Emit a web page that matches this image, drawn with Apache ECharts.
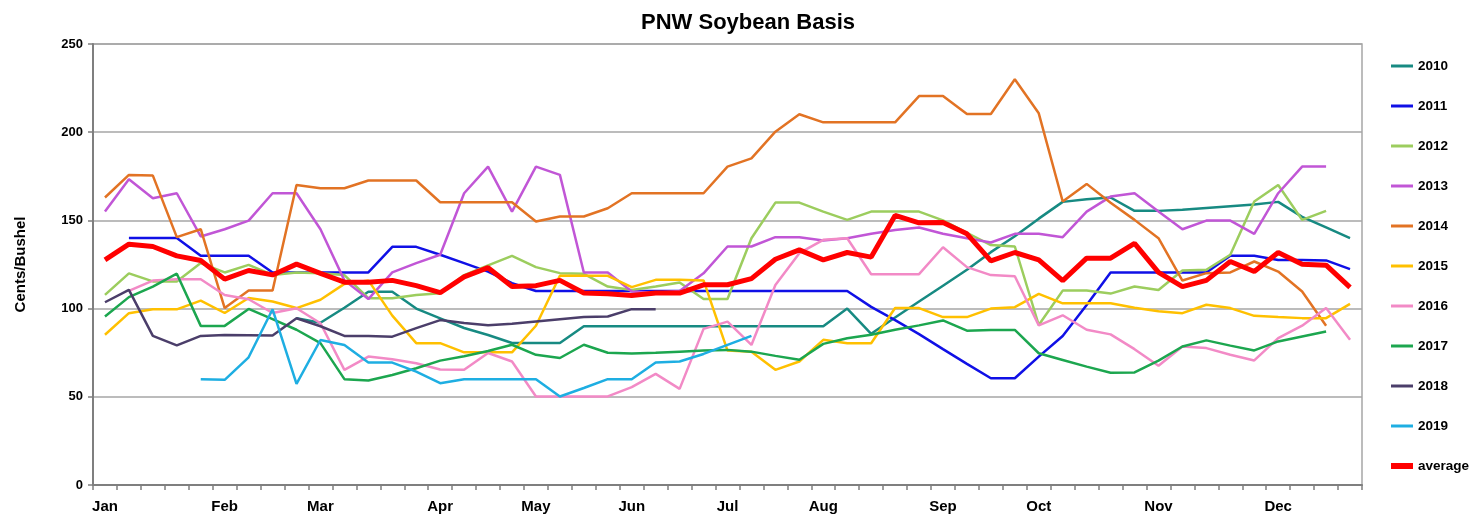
<!DOCTYPE html>
<html>
<head>
<meta charset="utf-8">
<script src="https://cdn.jsdelivr.net/npm/echarts@6/dist/echarts.min.js"></script>
<style>
html,body{margin:0;padding:0;background:#fff;}
#chart{width:1471px;height:518px;}
</style>
</head>
<body>
<div id="chart"></div>
<script>
// Weekly categories (53 weeks)
const weeks = [
 'Jan 1','Jan 2','Jan 3','Jan 4','Jan 5',
 'Feb 1','Feb 2','Feb 3','Feb 4',
 'Mar 1','Mar 2','Mar 3','Mar 4','Mar 5',
 'Apr 1','Apr 2','Apr 3','Apr 4',
 'May 1','May 2','May 3','May 4',
 'Jun 1','Jun 2','Jun 3','Jun 4',
 'Jul 1','Jul 2','Jul 3','Jul 4',
 'Aug 1','Aug 2','Aug 3','Aug 4','Aug 5',
 'Sep 1','Sep 2','Sep 3','Sep 4',
 'Oct 1','Oct 2','Oct 3','Oct 4','Oct 5',
 'Nov 1','Nov 2','Nov 3','Nov 4','Nov 5',
 'Dec 1','Dec 2','Dec 3','Dec 4'
];
const yTicks = [0, 50, 100, 150, 200, 250];

const s2010 = [null,null,null,null,null,null,null,null,
 94.5,92,100.5,109.6,109.6,100,94.5,89,85,80.5,80.5,80.5,90,90,90,90,90,90,90,90,90,90,90,100,
 85.7,95,104,113,122,132,141,151,160.5,162,163,155.4,155.4,156,157,158,159,160.5,152,146,140];
const s2011 = [null,140,140,140,130,130,130,120.5,120.5,120.5,120.5,120.5,135,135,130.5,125.8,121,114.4,
 110,110,110,110,110,110,110,110,110,110,110,110,110,110,101,93.5,85.5,77,68.7,60.5,60.5,72.8,84.5,102,
 120.5,120.5,120.5,120.5,120.5,130,130,127.6,127.6,127.3,122.4];
const s2012 = [107.8,120,115.4,115.4,125.8,120.5,124.8,119.1,120.5,120,119,105.9,105.9,107.7,108.7,119,124.5,
 129.9,123.5,120.1,119.7,112.5,110.6,112.5,114.8,105.4,105.4,139.9,160.1,160.1,155,150.3,155,155,155,150,143,
 136,135.2,90.7,110.2,110.2,108.5,112.5,110.5,121.6,122,130.5,160.7,170.1,150.3,155.4,null];
const s2013 = [155,173.3,162.6,165.4,140.9,145,149.9,165.4,165.4,145,116,105.4,120.5,125.8,130.5,165.4,180.5,
 155,180.5,175.8,120.5,120.5,109.7,109,110,120,135.2,135.2,140.5,140.5,138.6,139.9,142.4,144.6,146,142.4,
 139.9,137.5,142.4,142.4,140.5,155,163.5,165.4,155,145,149.9,149.9,142.4,165.4,180.5,180.5,null];
const s2014 = [163,175.8,175.4,140.5,145,100.3,110.3,110.3,170.1,168.2,168.2,172.6,172.6,172.6,160.3,160.3,
 160.3,160.3,149.4,152.2,152.2,156.9,165.4,165.4,165.4,165.4,180.5,185.2,200.3,210.2,205.6,205.6,205.6,
 205.6,220.5,220.5,210.3,210.3,230,210.7,160.7,170.7,160,150.3,139.9,115.9,120.1,120.5,126.7,121,109.7,90.3,null];
const s2015 = [85.2,97.4,99.6,99.6,104.5,97.5,106,104,100.3,105,114,116,96,80.4,80.4,75.2,75.2,75.2,90.3,
 118.6,118.6,118.6,112.2,116.3,116.3,116,76.2,75.6,65.3,70,82.3,80.4,80.4,100.3,100.3,95.2,95.2,100,100.8,
 108.3,103,103,103,100.5,98.5,97.4,102.2,100.3,95.9,95.2,94.6,94.6,102.7];
const s2016 = [null,110,115.9,116.6,116.6,107.7,105.3,97.5,100.2,91.7,65.3,72.8,71.3,69,65.5,65.3,74.8,70,
 50.2,50.2,50.2,50.2,55.5,63,54.5,88.5,92.6,79.4,113.4,131.4,139,139.9,119.5,119.5,119.5,134.8,123.5,119,
 118.3,90.5,96.2,88,85.4,77,67.6,78.5,77.6,73.8,70.6,83.3,90.3,100.3,82.3];
const s2017 = [95.5,106.5,112.5,119.8,90.2,90.2,99.8,94,88,80.4,60,59.2,62.4,66.2,70.5,73,76,79.5,73.8,72,
 79.5,75,74.5,75,75.6,76.2,76.6,75.6,73.2,71,80,83.2,85.2,88,90.5,93.3,87.5,87.9,87.9,74.7,70.9,67.1,63.6,
 63.8,70.5,78.5,82,79,76.3,81.4,84.2,87,null];
const s2018 = [103.6,110.6,84.5,79.2,84.5,85,84.9,84.7,94.5,90,84.5,84.5,84.1,88.9,93.5,91.8,90.5,91.4,92.7,
 94,95.2,95.5,99.7,99.7];
const s2019 = [null,null,null,null,60,59.6,72.4,99.6,57.3,82.2,79.4,69.4,69.4,64.3,57.7,60,60,60,60,50.2,55,
 60,60,69.5,70,74.3,79.4,84.5];
const sAvg = [127.6,136.5,135.2,129.9,127.3,116.7,121.6,119.1,125.2,120,115,115,116,113,109,118,123.2,112.5,
 113,116,108.8,108.4,107.4,108.8,108.8,113.5,113.5,117,128,133.3,127.6,131.8,129.2,152.8,148.6,148.8,142.4,
 127.1,131.8,127.6,115.9,128.6,128.6,137,120.5,112.5,116,126.7,121,131.8,125.2,124.6,112];

const seriesDefs = [
  ['2010', s2010, '#178a82', 2.5],
  ['2011', s2011, '#1010e6', 2.5],
  ['2012', s2012, '#9ccd5e', 2.5],
  ['2013', s2013, '#c156d6', 2.5],
  ['2014', s2014, '#e27324', 2.5],
  ['2015', s2015, '#ffc000', 2.5],
  ['2016', s2016, '#f28ac6', 2.5],
  ['2017', s2017, '#1ca64f', 2.5],
  ['2018', s2018, '#4b3e6a', 2.5],
  ['2019', s2019, '#1eaee2', 2.5],
  ['average', sAvg, '#ff0000', 5]
];

const chart = echarts.init(document.getElementById('chart'), null, {renderer: 'canvas'});
const FONT = '"Liberation Sans", Arial, sans-serif';
chart.setOption({
  animation: false,
  backgroundColor: '#ffffff',
  title: {
    text: 'PNW Soybean Basis',
    left: 743, top: 7, textAlign: 'center',
    textStyle: {fontFamily: FONT, fontWeight: 'bold', fontSize: 22, color: '#000'}
  },
  legend: {
    orient: 'vertical',
    left: 1388, top: 59, padding: 0,
    itemWidth: 22, itemHeight: 14, itemGap: 26,
    itemStyle: {opacity: 0},
    textStyle: {fontFamily: FONT, fontWeight: 'bold', fontSize: 13.5, color: '#000'},
    data: seriesDefs.map(d => ({
      name: d[0],
      lineStyle: {color: d[2], width: d[3] > 3 ? 6 : 3}
    }))
  },
  grid: {
    left: 93, right: 109, top: 44, bottom: 33,
    show: true, borderColor: '#a6a6a6', borderWidth: 1.5
  },
  xAxis: {
    type: 'category',
    data: weeks,
    boundaryGap: true,
    axisLine: {lineStyle: {color: '#7f7f7f', width: 2}},
    axisTick: {show: true, interval: 0, length: 5, lineStyle: {color: '#7f7f7f', width: 1.5}},
    axisLabel: {
      interval: 0, margin: 14,
      fontFamily: FONT, fontWeight: 'bold', fontSize: 15, color: '#000',
      formatter: v => (v.endsWith(' 1') ? v.split(' ')[0] : '')
    },
    splitLine: {show: false}
  },
  yAxis: {
    type: 'value',
    min: yTicks[0], max: yTicks[yTicks.length - 1], interval: 50,
    name: 'Cents/Bushel', nameLocation: 'middle', nameGap: 65,
    nameTextStyle: {fontFamily: FONT, fontWeight: 'bold', fontSize: 15, color: '#000'},
    axisLine: {show: true, lineStyle: {color: '#7f7f7f', width: 2}},
    axisTick: {show: true, length: 5, lineStyle: {color: '#7f7f7f', width: 1.5}},
    axisLabel: {margin: 10, fontFamily: FONT, fontWeight: 'bold', fontSize: 13, color: '#000'},
    splitLine: {show: true, lineStyle: {color: '#a6a6a6', width: 1.5}}
  },
  series: seriesDefs.map(d => ({
    name: d[0], type: 'line', data: d[1],
    symbol: 'none', connectNulls: false,
    lineStyle: {color: d[2], width: d[3]},
    itemStyle: {color: d[2]},
    emphasis: {disabled: true}
  }))
});
</script>
</body>
</html>
